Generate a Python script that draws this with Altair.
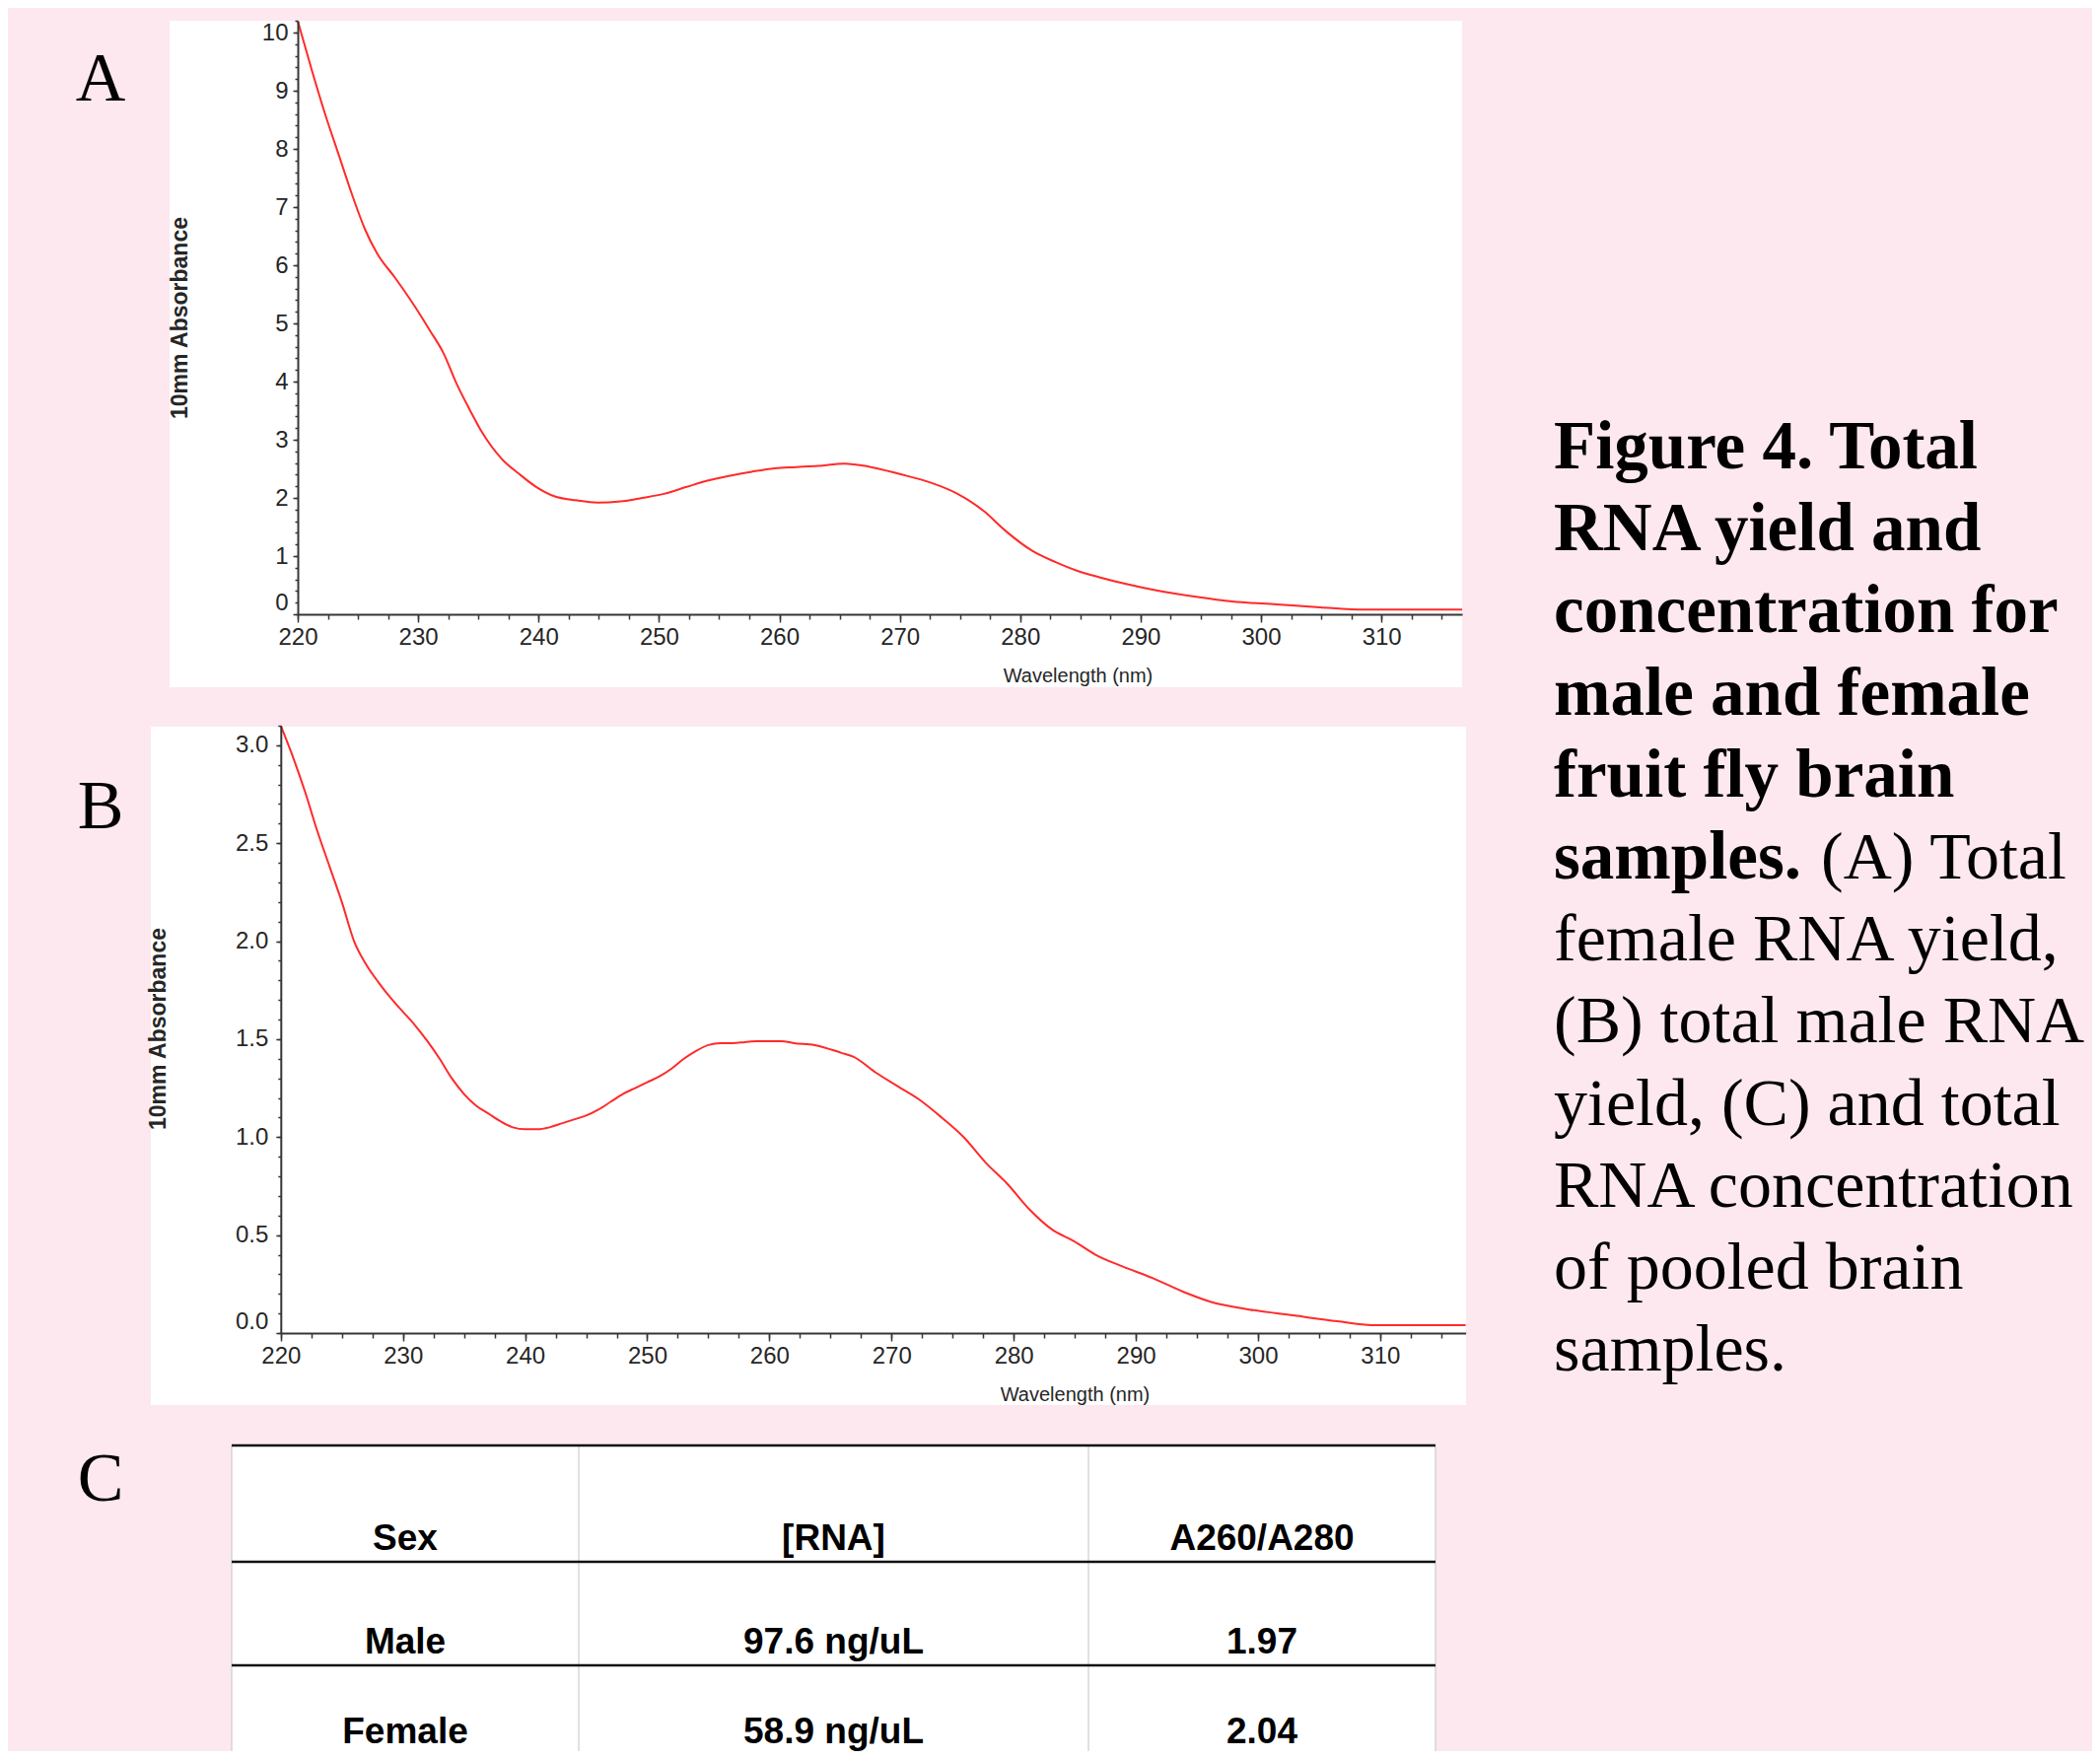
import altair as alt
import pandas as pd

# ------------------------------------------------------------------ data
# Panel A: female total RNA spectrum (wavelength nm, 10 mm absorbance)
wl_A = [220, 221.2, 222.3, 223.4, 224.5, 225.6, 226.6, 228.1, 229.6, 231.0,
        232.1, 233.2, 234.3, 235.3, 236.9, 238.4, 239.8, 241.3, 243.1, 244.9,
        246.8, 248.6, 250.4, 252.3, 254.1, 255.9, 257.7, 259.6, 261.4, 263.2,
        265.4, 267.4, 270.0, 272.6, 274.8, 277.0, 278.8, 281.0, 282.9, 284.7,
        286.5, 288.8, 291.3, 294.6, 297.6, 301.3, 304.9, 308.6, 312.3, 316.7]
abs_A = [10.2, 9.33, 8.58, 7.90, 7.22, 6.61, 6.20, 5.78, 5.33, 4.87,
         4.49, 3.96, 3.51, 3.13, 2.68, 2.41, 2.19, 2.03, 1.96, 1.92,
         1.94, 2.00, 2.07, 2.19, 2.30, 2.38, 2.45, 2.51, 2.53, 2.55,
         2.59, 2.54, 2.41, 2.26, 2.07, 1.77, 1.43, 1.09, 0.90, 0.75,
         0.64, 0.52, 0.41, 0.30, 0.22, 0.17, 0.12, 0.08, 0.08, 0.08]

# Panel B: male total RNA spectrum
wl_B = [220, 221, 222, 223, 224, 225, 226, 227, 228, 229,
        230, 231, 232, 233, 234, 235, 236, 237, 238, 239,
        240, 241, 242, 243, 244, 245, 246, 247, 248, 249,
        250, 251, 252, 253, 254, 255, 256, 257, 258, 259,
        260, 261, 262, 263.7, 265.9, 266.9, 268.7, 270.5, 272.3, 274.1,
        275.9, 277.7, 279.5, 281.3, 283.1, 284.9, 286.7, 288.9, 291.4, 293.9,
        296.1, 299.3, 302.9, 306.5, 309.7, 317]
abs_B = [3.10, 2.94, 2.76, 2.56, 2.38, 2.20, 2.00, 1.88, 1.79, 1.71,
         1.64, 1.57, 1.49, 1.40, 1.30, 1.22, 1.16, 1.12, 1.08, 1.05,
         1.04, 1.04, 1.05, 1.07, 1.09, 1.11, 1.14, 1.18, 1.22, 1.25,
         1.28, 1.31, 1.35, 1.40, 1.44, 1.47, 1.48, 1.48, 1.485, 1.49,
         1.49, 1.49, 1.48, 1.47, 1.43, 1.41, 1.33, 1.26, 1.19, 1.10,
         1.00, 0.87, 0.76, 0.63, 0.53, 0.47, 0.40, 0.34, 0.28, 0.21,
         0.16, 0.12, 0.09, 0.06, 0.04, 0.04]

# Panel C: table
table_header = ["Sex", "[RNA]", "A260/A280"]
table_sex = ["Male", "Female"]
table_rna = ["97.6 ng/uL", "58.9 ng/uL"]
table_ratio = ["1.97", "2.04"]

# Caption
caption_bold = ["Figure 4. Total", "RNA yield and", "concentration for",
                "male and female", "fruit fly brain", "samples."]
caption_inline = ["(A) Total"]
caption_regular = ["female RNA yield,", "(B) total male RNA", "yield, (C) and total",
                   "RNA concentration", "of pooled brain", "samples."]
panel_letters = ["A", "B", "C"]

x_title = "Wavelength (nm)"
y_title = "10mm Absorbance"

# ------------------------------------------------------------------ layout / style
# positions below are page pixels; the chart itself starts at the 8px page margin
OFF = 8
W, H = 2130 - 2 * OFF, 1784 - 2 * OFF
BG = "#fde8f0"
RED = "#ff2a2a"
DARK = "#363636"
LABEL = "#262626"
SANS = "Liberation Sans, Arial, sans-serif"
SERIF = "Liberation Serif, Times New Roman, serif"


def px(v):
    return v - OFF


PANEL_A = dict(box=(172, 21, 1483, 697), x_dom=(220, 316.7), x_rng=(302, 1483),
               y_dom=(0, 10.2), y_rng=(623, 21.2), y_major=list(range(0, 11)),
               y_minor_step=0.2, y_fmt="d", ylab_pad=5,
               xtitle_x=1093, ytitle=(182, 322))
PANEL_B = dict(box=(153, 737, 1487, 1425), x_dom=(220, 317), x_rng=(284.8, 1486.6),
               y_dom=(0, 3.1), y_rng=(1352, 736), y_major=[0, 0.5, 1.0, 1.5, 2.0, 2.5, 3.0],
               y_minor_step=0.1, y_fmt=".1f", ylab_pad=8,
               xtitle_x=1090, ytitle=(161, 1043))

LETTER_X = 102
LETTER_BASE = [102, 840, 1522]

CAP_X = 1576
CAP_INLINE_X = 1847
CAP_BASE0, CAP_STEP = 475, 83.2

TBL_X = [235, 587, 1104, 1456]          # column edges
TBL_TOP, TBL_BOTTOM = 1466, 1784
TBL_HLINES = [1466, 1584, 1689]
TBL_BASE = [1572, 1677, 1768]           # text baselines per row


def spectrum(wl, ab, P):
    df = pd.DataFrame({"wavelength": wl, "absorbance": ab})
    xs = alt.Scale(domain=list(P["x_dom"]), range=[px(v) for v in P["x_rng"]], nice=False, zero=False)
    ys = alt.Scale(domain=list(P["y_dom"]), range=[px(v) for v in P["y_rng"]], nice=False, zero=False)
    x_axis_y = px(P["y_rng"][0])
    y_axis_x = px(P["x_rng"][0])
    x_major = [220 + 10 * i for i in range(10)]
    x_minor = [220 + 2.5 * i for i in range(39)]
    n_minor = int(round(P["y_dom"][1] / P["y_minor_step"]))
    y_minor = [round(P["y_minor_step"] * i, 2) for i in range(n_minor + 1)]

    box = alt.Chart(pd.DataFrame({"k": [0]})).mark_rect(color="white").encode(
        x=alt.value(px(P["box"][0])), x2=alt.value(px(P["box"][2])),
        y=alt.value(px(P["box"][1])), y2=alt.value(px(P["box"][3])))

    ax_x = alt.Axis(orient="bottom", offset=x_axis_y - H, values=x_major, format="d",
                    grid=False, zindex=1, domainColor=DARK, domainWidth=2,
                    tickColor=DARK, tickWidth=1.5, tickSize=8,
                    labelFont=SANS, labelFontSize=24, labelColor=LABEL,
                    labelPadding=3, labelFlush=False,
                    title=x_title, titleFont=SANS, titleFontSize=20,
                    titleFontWeight="normal", titleColor=LABEL,
                    titleX=px(P["xtitle_x"]), titleY=68, titleAlign="center",
                    titleBaseline="alphabetic")
    ax_y = alt.Axis(orient="left", offset=-y_axis_x, values=P["y_major"], format=P["y_fmt"],
                    grid=False, zindex=1, domainColor=DARK, domainWidth=2,
                    tickColor=DARK, tickWidth=1.5, tickSize=5,
                    labelFont=SANS, labelFontSize=24, labelColor=LABEL,
                    labelPadding=P["ylab_pad"], labelFlush=True,
                    title=y_title, titleFont=SANS, titleFontSize=23,
                    titleFontWeight="bold", titleColor=LABEL, titleAngle=270,
                    titleX=px(P["ytitle"][0]) - y_axis_x, titleY=px(P["ytitle"][1]),
                    titleAlign="center", titleBaseline="middle")
    line = alt.Chart(df).mark_line(color=RED, strokeWidth=2, interpolate="monotone").encode(
        x=alt.X("wavelength:Q", scale=xs, axis=ax_x),
        y=alt.Y("absorbance:Q", scale=ys, axis=ax_y))

    mx = alt.Axis(orient="bottom", offset=x_axis_y - H, values=x_minor, labels=False,
                  domain=False, grid=False, zindex=1, tickColor=DARK, tickWidth=1.5,
                  tickSize=5, title=None)
    my = alt.Axis(orient="left", offset=-y_axis_x, values=y_minor, labels=False,
                  domain=False, grid=False, zindex=1, tickColor=DARK, tickWidth=1.5,
                  tickSize=3, title=None)
    minor = alt.Chart(df).mark_line(opacity=0).encode(
        x=alt.X("wavelength:Q", scale=xs, axis=mx),
        y=alt.Y("absorbance:Q", scale=ys, axis=my))
    return [box, minor, line]


layers = []
layers += spectrum(wl_A, abs_A, PANEL_A)
layers += spectrum(wl_B, abs_B, PANEL_B)

# panel letters
letters_df = pd.DataFrame({"letter": panel_letters, "base": [px(v) for v in LETTER_BASE]})
layers.append(alt.Chart(letters_df).mark_text(font=SERIF, fontSize=70, align="center",
                                              baseline="alphabetic", color="black").encode(
    x=alt.value(px(LETTER_X)), y=alt.Y("base:Q", scale=None, axis=None), text="letter:N"))

# ---- table (panel C)
layers.append(alt.Chart(pd.DataFrame({"k": [0]})).mark_rect(color="white").encode(
    x=alt.value(px(TBL_X[0])), x2=alt.value(px(TBL_X[-1])),
    y=alt.value(px(TBL_TOP)), y2=alt.value(px(TBL_BOTTOM))))
layers.append(alt.Chart(pd.DataFrame({"x": [px(v) for v in TBL_X]})).mark_rule(
    color="#cdcdcd", strokeWidth=1.2).encode(
    x=alt.X("x:Q", scale=None, axis=None), y=alt.value(px(TBL_TOP)), y2=alt.value(px(TBL_BOTTOM))))
layers.append(alt.Chart(pd.DataFrame({"y": [px(v) for v in TBL_HLINES]})).mark_rule(
    color="#111111", strokeWidth=2.5).encode(
    y=alt.Y("y:Q", scale=None, axis=None), x=alt.value(px(TBL_X[0])), x2=alt.value(px(TBL_X[-1]))))

cells = []
rows = [table_header] + [[s, r, q] for s, r, q in zip(table_sex, table_rna, table_ratio)]
for ri, row in enumerate(rows):
    for ci, txt in enumerate(row):
        cells.append({"label": txt, "cx": px((TBL_X[ci] + TBL_X[ci + 1]) / 2), "by": px(TBL_BASE[ri])})
layers.append(alt.Chart(pd.DataFrame(cells)).mark_text(font=SANS, fontSize=37, fontWeight="bold",
                                                       align="center", baseline="alphabetic",
                                                       color="black").encode(
    x=alt.X("cx:Q", scale=None, axis=None), y=alt.Y("by:Q", scale=None, axis=None), text="label:N"))

# ---- caption
cap_scale = alt.Scale(domain=[0, 11], range=[px(CAP_BASE0), px(CAP_BASE0 + 11 * CAP_STEP)],
                      nice=False, zero=False)
cb = pd.DataFrame({"line": list(range(len(caption_bold))), "text": caption_bold})
cr = pd.DataFrame({"line": list(range(6, 6 + len(caption_regular))), "text": caption_regular})
ci = pd.DataFrame({"line": [5], "text": caption_inline})
layers.append(alt.Chart(cb).mark_text(font=SERIF, fontSize=69, fontWeight="bold", align="left",
                                      baseline="alphabetic", color="black").encode(
    x=alt.value(px(CAP_X)), y=alt.Y("line:Q", scale=cap_scale, axis=None), text="text:N"))
layers.append(alt.Chart(cr).mark_text(font=SERIF, fontSize=68, align="left",
                                      baseline="alphabetic", color="black").encode(
    x=alt.value(px(CAP_X)), y=alt.Y("line:Q", scale=cap_scale, axis=None), text="text:N"))
layers.append(alt.Chart(ci).mark_text(font=SERIF, fontSize=68, align="left",
                                      baseline="alphabetic", color="black").encode(
    x=alt.value(px(CAP_INLINE_X)), y=alt.Y("line:Q", scale=cap_scale, axis=None), text="text:N"))

chart = alt.layer(*layers).resolve_scale(
    x="independent", y="independent"
).resolve_axis(
    x="independent", y="independent"
).properties(
    width=W, height=H, padding=0, background=BG,
    autosize=alt.AutoSizeParams(type="none"),
).configure_view(strokeWidth=0)

chart.save("out.html", embed_options={"renderer": "svg", "actions": False})
